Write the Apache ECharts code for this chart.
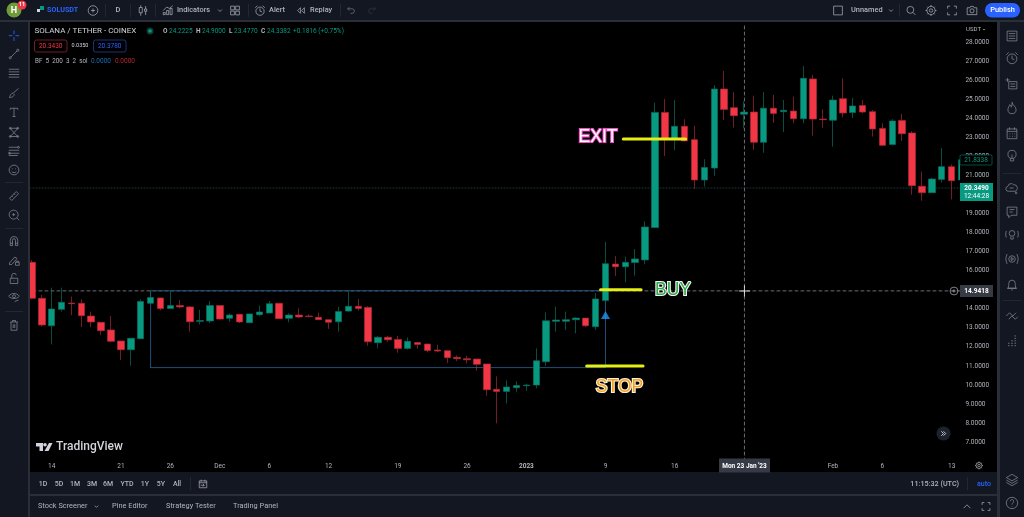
<!DOCTYPE html>
<html>
<head>
<meta charset="utf-8">
<style>
   html, body { margin: 0; padding: 0; background: #000; }
   #chart { width: 1024px; height: 517px; }
</style>
<script src="https://cdn.jsdelivr.net/npm/echarts@6/dist/echarts.min.js"></script>
</head>
<body>
<div id="chart"></div>
<script>
const categories = [
   'Nov 12','Nov 13','Nov 14','Nov 15','Nov 16','Nov 17','Nov 18','Nov 19','Nov 20','Nov 21',
   'Nov 22','Nov 23','Nov 24','Nov 25','Nov 26','Nov 27','Nov 28','Nov 29','Nov 30','Dec 1',
   'Dec 2','Dec 3','Dec 4','Dec 5','Dec 6','Dec 7','Dec 8','Dec 9','Dec 10','Dec 11',
   'Dec 12','Dec 13','Dec 14','Dec 15','Dec 16','Dec 17','Dec 18','Dec 19','Dec 20','Dec 21',
   'Dec 22','Dec 23','Dec 24','Dec 25','Dec 26','Dec 27','Dec 28','Dec 29','Dec 30','Dec 31',
   'Jan 1','Jan 2','Jan 3','Jan 4','Jan 5','Jan 6','Jan 7','Jan 8','Jan 9','Jan 10',
   'Jan 11','Jan 12','Jan 13','Jan 14','Jan 15','Jan 16','Jan 17','Jan 18','Jan 19','Jan 20',
   'Jan 21','Jan 22','Jan 23','Jan 24','Jan 25','Jan 26','Jan 27','Jan 28','Jan 29','Jan 30',
   'Jan 31','Feb 1','Feb 2','Feb 3','Feb 4','Feb 5','Feb 6','Feb 7','Feb 8','Feb 9',
   'Feb 10','Feb 11','Feb 12','Feb 13','Feb 14'
];
const opens = [
   16.44,14.55,13.11,13.97,14.30,14.29,13.62,13.29,12.89,12.31,
   11.85,12.43,14.29,14.57,14.01,14.17,14.10,13.34,13.36,14.17,
   13.50,13.71,13.27,13.69,13.78,14.29,13.50,13.67,13.62,13.55,
   13.43,13.32,13.88,14.13,14.07,12.22,12.50,12.39,11.92,12.23,
   12.15,11.83,11.80,11.45,11.38,11.36,11.10,9.77,9.66,9.85,
   9.96,9.99,11.22,13.34,13.34,13.43,13.51,13.06,14.43,16.35,
   16.21,16.43,16.57,18.27,24.32,22.92,23.59,22.89,20.77,21.40,
   25.55,24.57,24.2225,24.34,22.75,24.54,24.36,24.39,23.99,26.08,
   23.97,23.91,25.04,24.31,24.68,24.36,23.48,22.63,23.89,23.24,
   20.44,20.10,20.80,21.47,20.77
];
const closes = [
   14.55,13.15,13.99,14.34,14.27,13.64,13.31,12.85,12.29,11.85,
   12.45,14.39,14.59,14.01,14.17,14.10,13.32,13.38,14.17,13.46,
   13.67,13.31,13.73,13.83,14.27,13.48,13.67,13.57,13.59,13.43,
   13.29,13.86,14.13,14.02,12.27,12.50,12.37,11.92,12.29,12.13,
   11.81,11.78,11.43,11.38,11.32,11.08,9.75,9.66,9.89,9.97,
   9.99,11.27,13.37,13.41,13.43,13.51,13.11,14.52,16.37,16.21,
   16.44,16.62,18.30,24.32,22.92,23.59,22.82,20.77,21.43,25.55,
   24.48,24.15,24.3382,22.75,24.54,24.27,24.43,23.99,26.11,23.97,
   23.94,24.97,24.29,24.66,24.34,23.45,22.59,23.87,23.20,20.47,
   20.10,20.82,21.47,20.73,21.8338
];
const lows = [
   14.50,13.06,12.13,13.85,13.67,13.04,13.04,12.62,12.24,11.31,
   11.01,12.43,14.25,13.92,14.00,14.03,12.80,13.17,13.25,13.43,
   13.31,13.25,13.25,13.62,13.78,13.46,13.29,13.53,13.55,13.41,
   12.94,12.80,13.84,13.90,12.06,11.92,12.27,11.69,11.85,11.90,
   11.71,11.73,11.15,11.25,11.13,10.75,9.43,7.98,9.03,9.64,
   9.69,9.82,11.00,12.80,12.88,12.71,13.04,12.89,14.35,15.72,
   15.39,15.74,16.34,18.27,22.03,22.33,22.82,20.30,20.42,20.98,
   23.92,23.52,23.477,22.35,22.20,23.77,23.29,23.75,23.75,23.10,
   23.52,22.52,24.06,24.03,24.27,23.05,22.55,22.59,22.82,20.00,
   19.68,20.10,20.63,19.75,20.60
];
const highs = [
   16.56,14.73,15.11,15.11,14.64,14.50,13.85,13.31,13.62,12.31,
   12.48,14.50,14.95,14.60,14.95,14.46,14.15,13.94,14.41,14.17,
   13.76,13.71,13.75,14.17,14.41,14.31,13.76,14.02,13.71,13.80,
   13.43,14.11,14.93,14.51,14.14,12.57,12.58,12.58,12.50,12.26,
   12.15,12.11,11.80,11.55,11.53,11.36,11.10,10.45,10.24,10.19,
   10.06,11.92,13.81,14.11,13.85,13.55,13.51,14.82,17.51,16.77,
   16.74,17.14,18.60,24.83,25.03,24.97,23.96,23.62,21.86,25.76,
   26.50,25.39,24.90,25.20,25.39,25.24,24.97,25.15,26.76,26.29,
   24.48,25.20,26.11,25.08,24.97,24.45,23.75,23.96,24.24,23.34,
   21.21,20.89,22.45,21.59,21.90
];
const xTickLabels = {
   'Nov 14': '14', 'Nov 21': '21', 'Nov 26': '26', 'Dec 1': 'Dec', 'Dec 6': '6', 'Dec 12': '12',
   'Dec 19': '19', 'Dec 26': '26', 'Jan 1': '2023', 'Jan 9': '9', 'Jan 16': '16',
   'Feb 1': 'Feb', 'Feb 6': '6', 'Feb 13': '13'
};
// drawn levels, in price
const crossPrice = 14.9418;
const lastPrice = 20.349;
const boxTop = 14.95;
const boxBottom = 10.91;
const arrowPrice = 13.68;
// yellow annotation strokes: [start index, end index, price]
const exitStroke = [59.8, 66.1, 22.92];
const buyStroke = [57.5, 61.6, 15.0];
const stopStroke = [56.1, 61.8, 11.0];

const PANEL = '#131722';
const GAP = '#2a2e39';
const ICON = '#8b8f9a';
const TEXT = '#b2b5be';
const FONT = 'Roboto, sans-serif';
const MID = '500';

const c = (x, y, r) => `M${x - r} ${y}a${r} ${r} 0 1 0 ${2 * r} 0a${r} ${r} 0 1 0 ${-2 * r} 0`;
const icons = {
   cross: 'M8 1V6M8 10V15M1 8H6M10 8H15',
   line: 'M4 12L12 4' + c(3, 13, 1.4) + c(13, 3, 1.4),
   lines: 'M1 3H15M1 6.5H15M1 10H15M1 13.5H15',
   brush: 'M14 2L7 8M7 8C4 8 3 11 2 14C6 14 9 12 8 9',
   t: 'M3 3H13M8 3V14M6 14H10M3 3V5M13 3V5',
   pattern: 'M3 3L13 3L8 9L13 14L3 14L8 9Z' + c(3, 3, 1.2) + c(13, 3, 1.2) + c(3, 14, 1.2) + c(13, 14, 1.2),
   fibs: 'M1 3H13M1 7H15M1 11H15M1 14H13' + c(14, 3, 1.2) + c(2, 11, 1.2),
   smile: c(8, 8, 6.5) + 'M5 10C6 12 10 12 11 10M6 6V7M10 6V7',
   ruler: 'M2 11L11 2L14 5L5 14ZM5 8L6.5 9.5M8 5L9.5 6.5',
   zoom: c(7.5, 7.5, 6) + 'M12 12L15 15M5.5 7.5H9.5M7.5 5.5V9.5',
   magnet: 'M3 14V7A5 5 0 0 1 13 7V14H10V7A2 2 0 0 0 6 7V14ZM3 11H6M10 11H13',
   pencil: 'M2 12L9 4L12 6L5 14L2 14ZM10 11H15V15H10ZM11 11V9.5H14V11',
   lock: 'M3 7H13V14H3ZM5 7V4A3 3 0 0 1 11 3M8 10V11',
   eye: 'M1 7C4 2 12 2 15 7C12 11 4 11 1 7Z' + c(8, 7, 2) + 'M9 14L14 12',
   trash: 'M3 4H13M6 4V2H10V4M4 4V15H12V4M7 7V12M9 7V12',
   list: 'M2 2H14V14H2ZM4 5H12M4 8H12M4 11H12',
   alarm: c(8, 9, 6) + 'M8 5V9L11 10M1 4L4 1M15 4L12 1',
   watchAdd: 'M4 5H14V14H4ZM6 8H12M6 11H12M0 3H5M2.5 0.5V5.5',
   flame: 'M8 1C9 5 13 6 13 10A5 5 0 0 1 3 10C3 7 5 6 5 4C7 5 7 6 7 7C8 6 8 3 8 1Z',
   calendar: 'M2 3H14V15H2ZM2 6H14M5 1V4M11 1V4M5 9H6M8 9H9M11 9H12M5 12H6M8 12H9M11 12H12',
   bulb: c(8, 6, 5) + 'M6 11V14H10V11M8 6V11',
   cloud: 'M4 12A3 3 0 0 1 3 6A4 4 0 0 1 10 4A4 4 0 0 1 14 10A3 3 0 0 1 12 12ZM5 8H10' + c(13, 14, 1),
   chat: 'M2 2H14V12H7L4 15V12H2ZM5 5H11M5 8H9',
   ideaWave: c(8, 6, 3.5) + 'M6.5 10V13H9.5V10M1 3C0 6 0 9 1 11M15 3C16 6 16 9 15 11',
   playWave: c(8, 8, 4) + 'M7 6L10 8L7 10ZM2 2C0 6 0 10 2 14M14 2C16 6 16 10 14 14',
   bell: 'M3 12C4 10 4 8 4 6A4 4 0 0 1 12 6C12 8 12 10 13 12ZM2 12H14M7 14H9',
   arrows: 'M1 8L5 4L9 8L13 4M4 12L8 8L12 12L15 9',
   dots: 'M3 12H5M7 12H9M11 12H13M7 9H9M11 9H13M11 6H13M11 3H13M3 15H5M7 15H9M11 15H13',
   layers: 'M8 1L15 5L8 9L1 5ZM1 8L8 12L15 8M1 11L8 15L15 11',
   help: c(8, 8, 7) + 'M6 6C6 3 10 3 10 6C10 8 8 8 8 10M8 12V12.8',
   plusCircle: c(8, 8, 7) + 'M8 5V11M5 8H11',
   candles: 'M3 4H7V11H3ZM5 1V4M5 11V15M10 6H13V9H10ZM11.5 2V6M11.5 9V14',
   indicators: 'M1 14L1 11H4V14ZM6 14V8H9V14ZM11 14V5H14V14ZM1 8L6 3L10 5L15 1',
   grid: 'M1 1H7V7H1ZM9 1H15V7H9ZM1 9H7V15H1ZM9 9H15V15H9Z',
   rewind: 'M7 3L2 8L7 13ZM14 3L9 8L14 13Z',
   undo: 'M5 2L2 5L5 8M2 5H10A4 4 0 0 1 10 13H7',
   redo: 'M11 2L14 5L11 8M14 5H6A4 4 0 0 0 6 13H9',
   chevDown: 'M2 5L8 11L14 5',
   chevUp: 'M2 11L8 5L14 11',
   square: 'M1 1H15V15H1Z',
   search: c(7, 7, 5.5) + 'M11 11L15 15',
   gear: c(8, 8, 2.5) + c(8, 8, 6) + 'M8 0V2M8 14V16M0 8H2M14 8H16M2.5 2.5L4 4M12 12L13.5 13.5M13.5 2.5L12 4M4 12L2.5 13.5',
   full: 'M1 5V1H5M11 1H15V5M15 11V15H11M5 15H1V11',
   camera: 'M1 4H5L6 2H10L11 4H15V14H1Z' + c(8, 8.5, 3),
   calJump: 'M2 3H14V14H2ZM2 6H14M5 1V4M11 1V4M4 10H10M8 8L10 10L8 12',
   forward: 'M3 3L8 8L3 13M8 3L13 8L8 13',
   tvMark: 'M0 2H7V10H3.5V5.5H0ZM9 2A1.8 1.8 0 1 1 9 5.6A1.8 1.8 0 1 1 9 2ZM13 2H16.5L12.5 10H8.5Z'
};
// graphic elements take registered shapes, not raw path data
Object.keys(icons).forEach(name => {
   echarts.graphic.registerShape('tv_' + name, echarts.graphic.extendPath(icons[name]));
});

function icon(name, x, y, size, color, width) {
   const s = size / 16;
   return {
      type: 'tv_' + name, z: 30, silent: true,
      x: x - size / 2, y: y - size / 2, scaleX: s, scaleY: s,
      style: { fill: 'none', stroke: color || ICON, lineWidth: width || 0.7, strokeNoScale: true }
   };
}
function label(x, y, text, size, color, align, weight) {
   return {
      type: 'text', z: 30, silent: true, x: x, y: y,
      style: {
         text: text, fill: color || TEXT, align: align || 'left', verticalAlign: 'middle',
         textAlign: align || 'left', textVerticalAlign: 'middle',
         font: (weight || 'normal') + ' ' + size + 'px ' + FONT
      }
   };
}
function box(x, y, w, h, fill, z, r, stroke) {
   return {
      type: 'rect', z: z || 20, silent: true,
      shape: { x: x, y: y, width: w, height: h, r: r || 0 },
      style: { fill: fill, stroke: stroke || null, lineWidth: stroke ? 0.8 : 0 }
   };
}
function drawnText(x, y, text, fill, stroke) {
   return {
      type: 'text', z: 30, silent: true, x: x, y: y,
      style: {
         text: text, fill: fill, stroke: stroke, lineWidth: 2.2, strokeFirst: true,
         align: 'center', verticalAlign: 'middle', textAlign: 'center', textVerticalAlign: 'middle',
         font: '17.5px "Liberation Sans", sans-serif',
         shadowColor: stroke, shadowBlur: 3
      }
   };
}

const leftIcons = [
   ['line', 54], ['lines', 73], ['brush', 93], ['t', 112], ['pattern', 132], ['fibs', 151],
   ['smile', 170], ['ruler', 196], ['zoom', 215], ['magnet', 241], ['pencil', 260], ['lock', 279],
   ['eye', 297], ['trash', 325]
];
const rightIcons = [
   ['list', 36], ['alarm', 58], ['watchAdd', 84], ['flame', 108], ['calendar', 133], ['bulb', 156],
   ['cloud', 188], ['chat', 212], ['ideaWave', 235], ['playWave', 259], ['bell', 285],
   ['arrows', 316], ['dots', 340], ['layers', 480], ['help', 503]
];
const rangeLabels = [
   ['1D', 43], ['5D', 59], ['1M', 75], ['3M', 92], ['6M', 108], ['YTD', 127], ['1Y', 145], ['5Y', 161], ['All', 177]
];
const panelDividers = [[105, 130, 155, 248, 340, 899], [190, 967]];

const chrome = [
   // panels over the plot edges
   box(960, 22, 37, 451, '#000', 5),
   box(0, 0, 1024, 22, GAP), box(0, 0, 30, 517, GAP), box(997, 0, 27, 517, GAP), box(0, 472.5, 1024, 45, GAP),
   box(0, 0, 1024, 20, PANEL, 21), box(0, 22, 28, 495, PANEL, 21), box(1000, 22, 24, 495, PANEL, 21),
   box(30, 473, 967, 21, PANEL, 21), box(30, 496, 967, 21, PANEL, 21),
   // top bar
   { type: 'circle', z: 30, silent: true, shape: { cx: 14, cy: 10, r: 7.5 }, style: { fill: '#6f9b3a' } },
   label(14, 10.5, 'H', 9, '#fff', 'center', 'bold'),
   { type: 'circle', z: 31, silent: true, shape: { cx: 22, cy: 5, r: 4.5 }, style: { fill: '#f23645' } },
   Object.assign(label(22, 5, '11', 5.5, '#fff', 'center', 'bold'), { z: 32 }),
   box(37, 9, 3, 3, '#d1d4dc', 30), box(40, 6, 4, 4, '#089981', 30),
   label(47, 10.5, 'SOLUSDT', 7.2, '#2962ff', 'left', 'bold'),
   icon('plusCircle', 93, 10.5, 11, TEXT),
   label(118, 10.5, 'D', 7.4, TEXT, 'center', MID),
   icon('candles', 143, 10.5, 12, TEXT),
   icon('indicators', 168, 10.5, 11, TEXT),
   label(177, 10.5, 'Indicators', 7.4, TEXT, 'left', MID),
   icon('chevDown', 220, 10.5, 5, TEXT),
   icon('grid', 235, 10.5, 10, TEXT),
   icon('alarm', 260, 10.5, 11, TEXT),
   label(269, 10.5, 'Alert', 7.4, TEXT, 'left', MID),
   icon('rewind', 301, 10.5, 9, TEXT),
   label(310, 10.5, 'Replay', 7.4, TEXT, 'left', MID),
   icon('undo', 351, 10.5, 9, '#787b86'),
   icon('redo', 372, 10.5, 9, '#363a45'),
   icon('square', 838, 10.5, 10, TEXT),
   label(851, 10.5, 'Unnamed', 7.4, TEXT, 'left', MID),
   icon('chevDown', 891, 10.5, 5, TEXT),
   icon('search', 911, 10.5, 10, TEXT),
   icon('gear', 931, 10.5, 11, TEXT),
   icon('full', 952, 10.5, 10, TEXT),
   icon('camera', 972, 10.5, 11, TEXT),
   box(985, 3, 35, 14.5, '#2962ff', 30, 7),
   Object.assign(label(1002.5, 10.5, 'Publish', 7.4, '#fff', 'center', MID), { z: 31 }),
   // legend block
   label(34.5, 31, 'SOLANA / TETHER - COINEX', 8, '#d1d4dc'),
   { type: 'circle', z: 30, silent: true, shape: { cx: 150, cy: 31, r: 3.5 }, style: { fill: '#0b3d36' } },
   { type: 'circle', z: 31, silent: true, shape: { cx: 150, cy: 31, r: 1.8 }, style: { fill: '#089981' } },
   label(163, 31.5, 'O', 6.5, TEXT, 'left', 'bold'), label(169, 31.5, '24.2225', 6.5, '#089981'),
   label(196, 31.5, 'H', 6.5, TEXT, 'left', 'bold'), label(202, 31.5, '24.9000', 6.5, '#089981'),
   label(229, 31.5, 'L', 6.5, TEXT, 'left', 'bold'), label(234, 31.5, '23.4770', 6.5, '#089981'),
   label(261, 31.5, 'C', 6.5, TEXT, 'left', 'bold'), label(267, 31.5, '24.3382', 6.5, '#089981'),
   label(293, 31.5, '+0.1816 (+0.75%)', 6.5, '#089981'),
   box(34.5, 40, 32.5, 12, '#000', 30, 2, '#8c2530'),
   Object.assign(label(50.7, 46, '20.3430', 6.5, '#f23645', 'center'), { z: 31 }),
   label(80, 46, '0.0350', 5.5, '#d1d4dc', 'center'),
   box(93.5, 40, 32.5, 12, '#000', 30, 2, '#1e3f9a'),
   Object.assign(label(109.7, 46, '20.3780', 6.5, '#2962ff', 'center'), { z: 31 }),
   label(35, 61, 'BF  5  200  3  2  sol', 6.3, TEXT),
   label(91, 61, '0.0000', 6.5, '#1e6fb8'),
   label(115, 61, '0.0000', 6.5, '#b22833'),
   // price scale tags
   label(981, 29.5, 'USDT', 6, TEXT, 'right'),
   icon('chevDown', 984, 29.5, 3, TEXT),
   box(960, 155, 32, 10, '#000', 30, 1, '#0b5c4f'),
   Object.assign(label(976, 160, '21.8338', 6.5, '#089981', 'center'), { z: 31 }),
   box(960, 183, 33, 18, '#089981', 30),
   Object.assign(label(976.5, 188, '20.3490', 6.5, '#fff', 'center', 'bold'), { z: 31 }),
   Object.assign(label(976.5, 196, '12:44:28', 6.5, '#fff', 'center'), { z: 31 }),
   box(960, 285, 33, 12, '#363a45', 30),
   Object.assign(label(976.5, 291, '14.9418', 6.5, '#fff', 'center', 'bold'), { z: 31 }),
   icon('plusCircle', 954, 291, 9, TEXT),
   // time axis tag and footer
   box(719, 458.5, 51, 14, '#363a45', 30),
   Object.assign(label(744.5, 466, "Mon 23 Jan '23", 6.5, '#fff', 'center', 'bold'), { z: 31 }),
   icon('gear', 979, 465.5, 8, TEXT),
   { type: 'circle', z: 30, silent: true, shape: { cx: 943.5, cy: 433.5, r: 7 }, style: { fill: '#1e222d' } },
   Object.assign(icon('forward', 943.5, 433.5, 7, '#d1d4dc', 0.9), { z: 31 }),
   // TradingView mark
   { type: 'tv_tvMark', z: 30, silent: true, x: 36, y: 441, style: { fill: '#d1d4dc' } },
   label(56, 447, 'TradingView', 12, '#d1d4dc', 'left', '500'),
   // toolbar footers
   icon('calJump', 203, 484, 10, TEXT),
   label(959, 484, '11:15:32 (UTC)', 7.2, TEXT, 'right', MID),
   label(977, 484, 'auto', 7, '#2962ff', 'left', MID),
   label(38, 506.5, 'Stock Screener', 7.4, TEXT),
   icon('chevDown', 96.5, 506.5, 4.5, TEXT),
   label(112, 506.5, 'Pine Editor', 7.4, TEXT),
   label(166, 506.5, 'Strategy Tester', 7.4, TEXT),
   label(233, 506.5, 'Trading Panel', 7.4, TEXT),
   icon('chevUp', 967, 506.5, 9, TEXT),
   icon('full', 986, 506.5, 9, TEXT),
   // drawn annotations
   drawnText(598, 137, 'EXIT', '#fff', '#f24fc7'),
   drawnText(673, 290.5, 'BUY', '#2fa84a', '#f3f3f3'),
   drawnText(619.5, 387, 'STOP', '#f59f1f', '#fff3d8'),
   // left tools
   icon('cross', 14, 35.7, 12, '#2962ff', 0.9),
   box(5, 182, 18, 0.7, GAP, 30), box(5, 228, 18, 0.7, GAP, 30), box(5, 311, 18, 0.7, GAP, 30),
   box(1003, 173, 18, 0.7, GAP, 30), box(1003, 300, 18, 0.7, GAP, 30)
];
leftIcons.forEach(d => chrome.push(icon(d[0], 14, d[1], 12)));
rightIcons.forEach(d => chrome.push(icon(d[0], 1012, d[1], 13)));
rangeLabels.forEach(d => chrome.push(label(d[1], 484, d[0], 7, TEXT, 'center', MID)));
panelDividers[0].forEach(x => chrome.push(box(x, 4, 0.7, 13, GAP, 30)));
panelDividers[1].forEach(x => chrome.push(box(x, 477, 0.7, 13, GAP, 30)));

// level and annotation lines run on a hidden value axis so they can sit between candles
function level(points, color, width, type, z) {
   return {
      type: 'line', xAxisIndex: 1, yAxisIndex: 0, data: points, symbol: 'none', silent: true, z: z || 2,
      lineStyle: { color: color, width: width, type: type || 'solid', cap: 'round' }
   };
}
function stroke(s) {
   return level([[s[0], s[2]], [s[1], s[2]]], '#e6ee14', 3, 'solid', 4);
}

const chart = echarts.init(document.getElementById('chart'));
chart.setOption({
   animation: false,
   backgroundColor: '#000',
   grid: { left: 26.96, width: 939.5, top: 23.37, height: 437.66 },
   xAxis: [{
      type: 'category',
      data: categories,
      axisLine: { show: false },
      axisTick: { show: false },
      splitLine: { show: false },
      axisLabel: {
         interval: 0,
         margin: 2,
         color: TEXT,
         fontFamily: FONT,
         fontSize: 6.5,
         formatter: v => {
            const t = xTickLabels[v] || '';
            return t === '2023' ? '{b|2023}' : t;
         },
         rich: { b: { fontWeight: 'bold', fontSize: 6.5, color: TEXT, fontFamily: FONT } }
      }
   }, {
      type: 'value', show: false, min: -0.5, max: 94.5, splitLine: { show: false }
   }],
   yAxis: {
      type: 'value',
      position: 'right',
      min: 6,
      max: 29,
      interval: 1,
      z: 10,
      axisLine: { show: false },
      axisTick: { show: false },
      splitLine: { show: false },
      axisLabel: {
         margin: -1, color: TEXT, fontFamily: FONT, fontSize: 6.5,
         formatter: v => (v < 7 || v > 28) ? '' : v.toFixed(4)
      }
   },
   series: [
      level([[-0.5, lastPrice], [94.5, lastPrice]], '#0a3d34', 1, [1, 2]),
      level([[-0.5, crossPrice], [94.5, crossPrice]], '#6a6d78', 1, [3, 3]),
      level([[72.05, 6], [72.05, 29]], '#6a6d78', 1, [3, 3]),
      level([[12, boxBottom], [12, boxTop], [58, boxTop], [58, boxBottom], [12, boxBottom]], '#1f4f78', 1),
      {
         type: 'candlestick',
         z: 3,
         clip: true,
         barWidth: 7,
         data: opens.map((o, i) => [o, closes[i], lows[i], highs[i]]),
         itemStyle: { color: '#089981', color0: '#f23645', borderColor: '#0a6f5e', borderColor0: '#a82a36', borderWidth: 0.7 }
      },
      stroke(exitStroke),
      stroke(buyStroke),
      stroke(stopStroke),
      {
         type: 'scatter', xAxisIndex: 1, yAxisIndex: 0, z: 4, silent: true,
         data: [[58, arrowPrice]], symbol: 'triangle', symbolSize: [9, 8], itemStyle: { color: '#2196f3' }
      },
      {
         type: 'scatter', xAxisIndex: 1, yAxisIndex: 0, z: 4, silent: true,
         data: [[72.05, crossPrice]], symbol: 'path://M5 0h1v11H5zM0 5h11v1H0z', symbolSize: 11, itemStyle: { color: '#fff' }
      }
   ],
   graphic: chrome
});
</script>
</body>
</html>
